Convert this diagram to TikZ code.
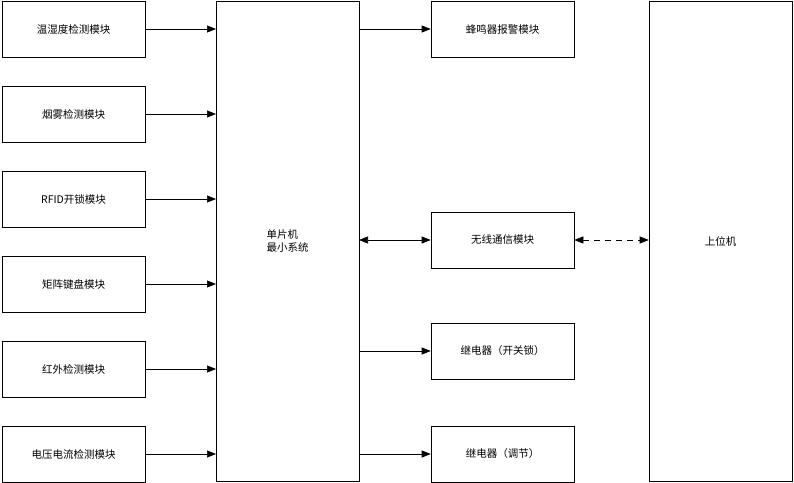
\documentclass[tikz,border=0pt]{standalone}
\usepackage{fontspec}
\setmainfont{Noto Sans CJK SC}
\usetikzlibrary{arrows.meta}
\begin{document}
\begin{tikzpicture}[x=1pt,y=-1pt,
 box/.style={draw,line width=0.6pt,minimum width=143pt,minimum height=56pt,inner sep=0pt,font=\fontsize{10.5}{13}\selectfont},
 arr/.style={-{Triangle[length=9pt,width=7pt]},line width=0.6pt},
 darr/.style={{Triangle[length=9pt,width=7pt]}-{Triangle[length=9pt,width=7pt]},line width=0.6pt}]
\useasboundingbox (0,0) rectangle (794,482);
\node[box] (a) at (73.5,29) {温湿度检测模块};
\node[box] (b) at (73.5,114) {烟雾检测模块};
\node[box] (c) at (73.5,199) {RFID开锁模块};
\node[box] (d) at (73.5,284) {矩阵键盘模块};
\node[box] (e) at (73.5,369) {红外检测模块};
\node[box] (f) at (73.5,454) {电压电流检测模块};
\node[box,minimum height=480pt,align=left] (m) at (287.5,241) {单片机\\最小系统};
\node[box] (p) at (502.5,29) {蜂鸣器报警模块};
\node[box] (w) at (502.5,240) {无线通信模块};
\node[box] (r1) at (502.5,351) {继电器（开关锁）};
\node[box] (r2) at (502.5,454) {继电器（调节）};
\node[box,minimum height=480pt] (h) at (720.5,241) {上位机};
\foreach \n/\y in {a/29,b/114,c/199,d/284,e/369,f/454}
  \draw[arr] (\n.east) -- (216,\y);
\draw[arr] (359,29) -- (p.west);
\draw[darr] (359,240) -- (w.west);
\draw[arr] (359,351) -- (r1.west);
\draw[arr] (359,454) -- (r2.west);
\draw[darr,dashed,dash pattern=on 6pt off 5pt] (w.east) -- (h.west|-w.east);
\end{tikzpicture}
\end{document}
